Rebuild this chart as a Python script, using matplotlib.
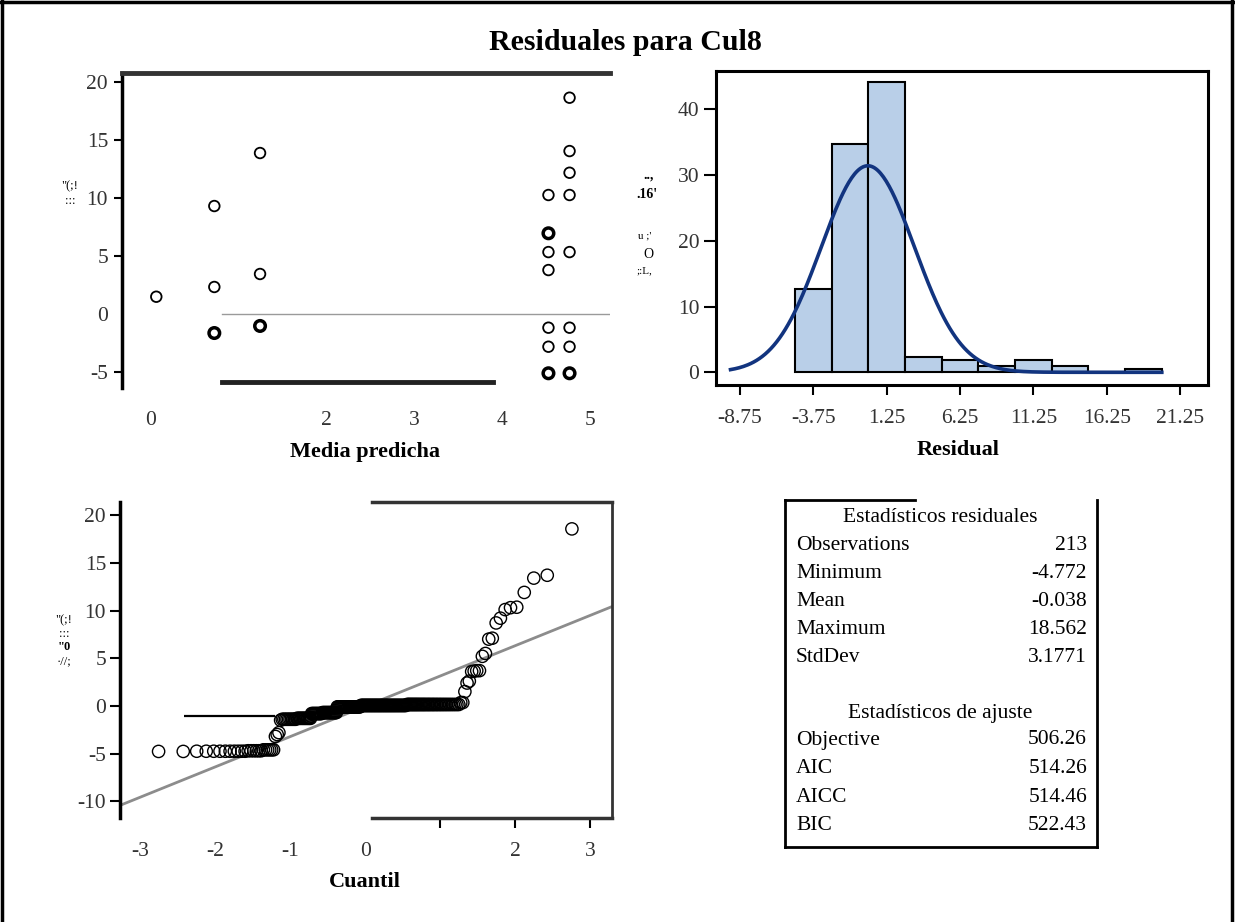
import statistics
import numpy as np
import matplotlib
matplotlib.use("Agg")
from matplotlib import pyplot as plt
from matplotlib.lines import Line2D

plt.rcParams['font.family'] = ['Liberation Serif', 'DejaVu Serif']
plt.rcParams['axes.unicode_minus'] = False

# ---- data ----
# residual vs predicted mean (visible points)
pm_light = [0.07, 0.73, 0.73, 1.25, 1.25, 4.77, 4.77, 4.77, 4.53, 4.77, 4.53, 4.77, 4.53, 4.53, 4.77, 4.53, 4.77]
res_light = [1.49, 9.31, 2.33, 13.88, 3.45, 18.65, 14.05, 12.18, 10.26, 10.26, 5.34, 5.34, 3.79, -1.18, -1.18, -2.82, -2.82]
pm_heavy = [0.73, 1.25, 4.53, 4.53, 4.77]
res_heavy = [-1.64, -1.03, 6.96, -5.11, -5.11]

# histogram of residuals (percent)
bin_left = [-5.0, -2.5, 0.0, 2.5, 5.0, 7.5, 10.0, 12.5, 15.0, 17.5]
pct = [12.68, 34.74, 44.13, 2.35, 1.88, 0.94, 1.88, 0.94, 0.0, 0.47]
hist_ticks = [-8.75, -3.75, 1.25, 6.25, 11.25, 16.25, 21.25]

# sorted residuals for the quantile plot (value, how many)
qq_vals = [-4.77, -4.75, -4.7, -4.6, -3.2, -3.0, -2.8, -1.5, -1.4, -1.3, -0.8, -0.7, -0.1,
           0.05, 0.15, 0.35, 1.5, 2.4, 2.6, 3.6, 3.65, 3.7, 3.7, 5.2, 5.5, 7.0, 7.1,
           8.7, 9.2, 10.1, 10.3, 10.35, 11.9, 13.4, 13.7, 18.56]
qq_count = [2, 10, 6, 6, 1, 1, 1, 1, 10, 12, 10, 15, 26,
            50, 40, 2, 1, 1, 1, 1, 1, 1, 1, 1, 1, 1, 1,
            1, 1, 1, 1, 1, 1, 1, 1, 1]

# summary tables
stat_names = ['Observations', 'Minimum', 'Mean', 'Maximum', 'StdDev']
stat_vals = ['213', '-4.772', '-0.038', '18.562', '3.1771']
fit_names = ['Objective', 'AIC', 'AICC', 'BIC']
fit_vals = ['506.26', '514.26', '514.46', '522.43']

res_mean = -0.038
res_std = 3.1771
n_obs = 213

W, H = 1235, 922
fig = plt.figure(figsize=(W / 100, H / 100), dpi=100)


def box(x0, y0, x1, y1):
    return [x0 / W, 1 - y1 / H, (x1 - x0) / W, (y1 - y0) / H]


def fx(x):
    return x / W


def fy(y):
    return 1 - y / H


def fline(xs, ys, **kw):
    fig.add_artist(Line2D([fx(v) for v in xs], [fy(v) for v in ys],
                          transform=fig.transFigure, **kw))


tick_col = '#333333'
tsz = 15.5
lab_sz = 16
tab_sz = 15.5

# ---- residual vs predicted mean ----
ax1 = fig.add_axes(box(122, 73, 610, 388))
ax1.scatter(pm_light, res_light, s=58, facecolors='none', edgecolors='black', linewidths=1.3)
ax1.scatter(pm_heavy, res_heavy, s=58, facecolors='none', edgecolors='black', linewidths=2.5)
ax1.axhline(0, xmin=0.205, color='#9a9a9a', lw=1)
ax1.set_xlim(-0.32, 5.23)
ax1.set_ylim(-6.38, 20.78)
ax1.set_xticks([0, 2, 3, 4, 5])
ax1.set_yticks([-5, 0, 5, 10, 15, 20])
ax1.tick_params(axis='x', length=0, pad=21, labelsize=tsz, labelcolor=tick_col)
ax1.tick_params(axis='y', length=6, width=1.5, pad=4, labelsize=tsz, labelcolor=tick_col)
ax1.yaxis.get_major_ticks()[1].tick1line.set_visible(False)
ax1.spines['right'].set_visible(False)
ax1.spines['top'].set_linewidth(3.5)
ax1.spines['top'].set_color('#333333')
ax1.spines['left'].set_linewidth(2.5)
ax1.spines['bottom'].set_position(('data', -5.86))
ax1.spines['bottom'].set_bounds(0.82, 3.9)
ax1.spines['bottom'].set_linewidth(3.5)
ax1.spines['bottom'].set_color('#222222')
fig.text(fx(365), fy(452), 'Media predicha', ha='center', va='center', fontsize=lab_sz, fontweight='bold')
fig.text(fx(70), fy(186), '"(;!', ha='center', va='center', fontsize=9)
fig.text(fx(70), fy(201), ':::', ha='center', va='center', fontsize=9)

# ---- histogram ----
ax2 = fig.add_axes(box(716, 71, 1208, 385))
ax2.bar(bin_left, pct, width=2.5, align='edge', color='#b9cfe8', edgecolor='black', linewidth=1.5)
cx = np.linspace(-9.4, 20.0, 300)
cy = 100 * 2.5 * np.exp(-0.5 * ((cx - res_mean) / res_std) ** 2) / (res_std * np.sqrt(2 * np.pi))
ax2.plot(cx, cy, color='#12347f', lw=2.6)
ax2.set_xlim(-10.39, 23.15)
ax2.set_ylim(-1.93, 45.8)
ax2.set_xticks(hist_ticks)
ax2.set_xticklabels(['%.2f' % t for t in hist_ticks])
ax2.set_yticks([0, 10, 20, 30, 40])
ax2.tick_params(axis='x', length=7, width=1.5, pad=10, labelsize=tsz, labelcolor=tick_col)
ax2.tick_params(axis='y', length=9, width=1.5, pad=3, labelsize=tsz, labelcolor=tick_col)
for s in ax2.spines.values():
    s.set_linewidth(2.2)
fig.text(fx(958), fy(450), 'Residual', ha='center', va='center', fontsize=lab_sz, fontweight='bold')
fig.text(fx(649), fy(175), '..,', ha='center', va='center', fontsize=10, fontweight='bold')
fig.text(fx(647), fy(194), ".16'", ha='center', va='center', fontsize=10, fontweight='bold')
fig.text(fx(645), fy(236), "u ;'", ha='center', va='center', fontsize=8)
fig.text(fx(648), fy(254), 'O', ha='center', va='center', fontsize=10)
fig.text(fx(644), fy(271), ';:L,', ha='center', va='center', fontsize=8)

# ---- quantile plot ----
qy = np.repeat(qq_vals, qq_count)
nd = statistics.NormalDist()
qx = np.array([nd.inv_cdf((i - 0.375) / (n_obs + 0.25)) for i in range(1, n_obs + 1)])
ax3 = fig.add_axes(box(120, 502, 612, 818))
ax3.scatter(qx, qy, s=78, facecolors='none', edgecolors='black', linewidths=1.0, zorder=3)
lx = np.array([-3.27, 3.29])
ax3.plot(lx, res_mean + res_std * lx, color='#8c8c8c', lw=2)
ax3.hlines(-1.05, -2.42, -1.2, color='black', lw=1.6)
ax3.set_xlim(-3.27, 3.29)
ax3.set_ylim(-11.75, 21.38)
ax3.set_xticks([-3, -2, -1, 0, 1, 2, 3])
ax3.set_xticklabels(['-3', '-2', '-1', '0', '', '2', '3'])
ax3.set_yticks([-10, -5, 0, 5, 10, 15, 20])
ax3.tick_params(axis='x', length=7, width=1.5, pad=10, labelsize=tsz, labelcolor=tick_col)
ax3.tick_params(axis='y', length=7, width=1.5, pad=3, labelsize=tsz, labelcolor=tick_col)
for t in ax3.xaxis.get_major_ticks()[:4]:
    t.tick1line.set_visible(False)
ax3.spines['left'].set_linewidth(2.5)
for k in ['top', 'bottom']:
    ax3.spines[k].set_bounds(0.085, 3.29)
    ax3.spines[k].set_linewidth(2.5)
    ax3.spines[k].set_color('#333333')
ax3.spines['right'].set_linewidth(2.0)
ax3.spines['right'].set_color('#333333')
fig.text(fx(365), fy(882), 'Cuantil', ha='center', va='center', fontsize=lab_sz, fontweight='bold')
for yy, s in zip([620, 634, 647, 661], ['"(;!', ':::', '"0', '·//;']):
    fig.text(fx(64), fy(yy), s, ha='center', va='center', fontsize=9, fontweight='bold' if s == '"0' else 'normal')

# ---- stats table ----
fline([785, 785], [500, 847], color='black', lw=2)
fline([1097, 1097], [500, 847], color='black', lw=2)
fline([785, 915], [500, 500], color='black', lw=2)
fline([785, 1097], [847, 847], color='black', lw=2)
fig.text(fx(940), fy(517), 'Estadísticos residuales', ha='center', va='center', fontsize=tab_sz)
for i, (nm, v) in enumerate(zip(stat_names, stat_vals)):
    yy = 545 + i * 28
    fig.text(fx(796), fy(yy), nm, ha='left', va='center', fontsize=tab_sz)
    fig.text(fx(1087), fy(yy), v, ha='right', va='center', fontsize=tab_sz)
fig.text(fx(940), fy(713), 'Estadísticos de ajuste', ha='center', va='center', fontsize=tab_sz)
for i, (nm, v) in enumerate(zip(fit_names, fit_vals)):
    yy = 740 + i * 28.6
    fig.text(fx(796), fy(yy), nm, ha='left', va='center', fontsize=tab_sz)
    fig.text(fx(1087), fy(yy), v, ha='right', va='center', fontsize=tab_sz)

# ---- title and outer frame ----
fig.text(fx(625), fy(42), 'Residuales para Cul8', ha='center', va='center', fontsize=21.5, fontweight='bold')
fline([2, 2], [0, 922], color='black', lw=2.5)
fline([1232, 1232], [0, 922], color='black', lw=2.5)
fline([0, 1235], [2, 2], color='black', lw=2.5)

fig.savefig('out.png', dpi=100)
